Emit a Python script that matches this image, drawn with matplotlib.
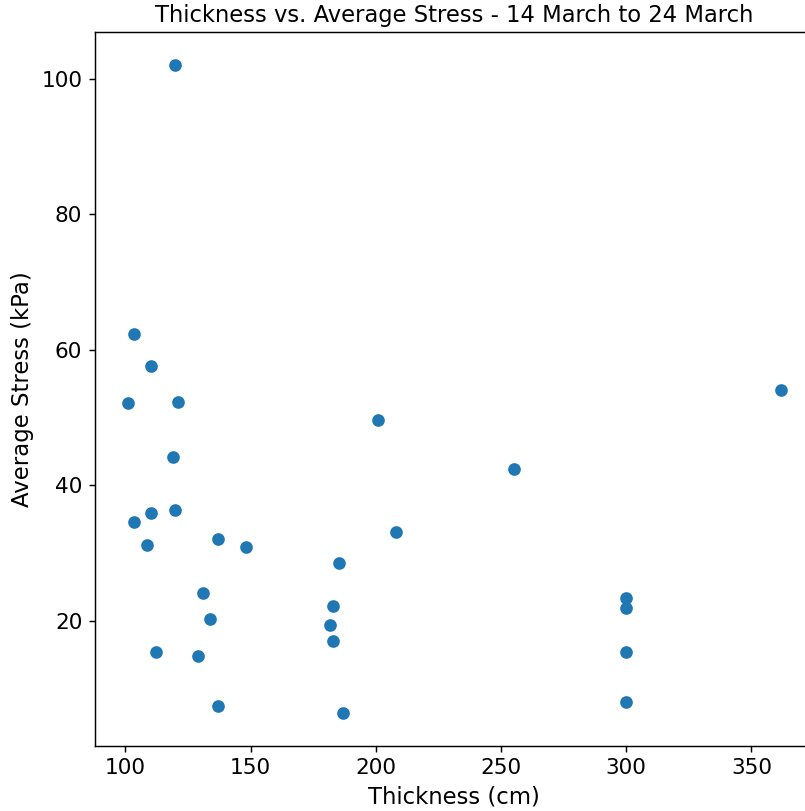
import matplotlib
matplotlib.use("Agg")
import matplotlib.pyplot as plt

# thickness (cm) and average stress (kPa)
thickness = [120, 103.3, 110.3, 100.9, 120.9, 118.9, 119.8, 110.3, 103.3, 108.7,
             137.1, 148.2, 131.0, 133.7, 112.1, 129.1, 137.0, 200.9, 207.9, 185.3,
             182.8, 181.8, 182.8, 186.9, 255.0, 300, 300, 300, 300, 361.9]
avg_stress = [102.1, 62.4, 57.6, 52.1, 52.3, 44.1, 36.4, 35.9, 34.6, 31.1,
              32.0, 30.8, 24.0, 20.2, 15.4, 14.7, 7.4, 49.6, 33.1, 28.5,
              22.2, 19.3, 17.0, 6.3, 42.4, 23.3, 21.8, 15.3, 8.0, 54.0]

plt.rcParams['font.size'] = 12

fig = plt.figure(figsize=(805 / 130, 811 / 130), dpi=130)
ax = fig.add_axes([0.118, 0.0805, 0.893, 0.8795])
ax.scatter(thickness, avg_stress)
ax.set_title("Thickness vs. Average Stress - 14 March to 24 March", fontsize=12.5)
ax.set_xlabel("Thickness (cm)", fontsize=12.6)
ax.set_ylabel("Average Stress (kPa)", fontsize=12.6)

fig.savefig("out.png", dpi=130)
